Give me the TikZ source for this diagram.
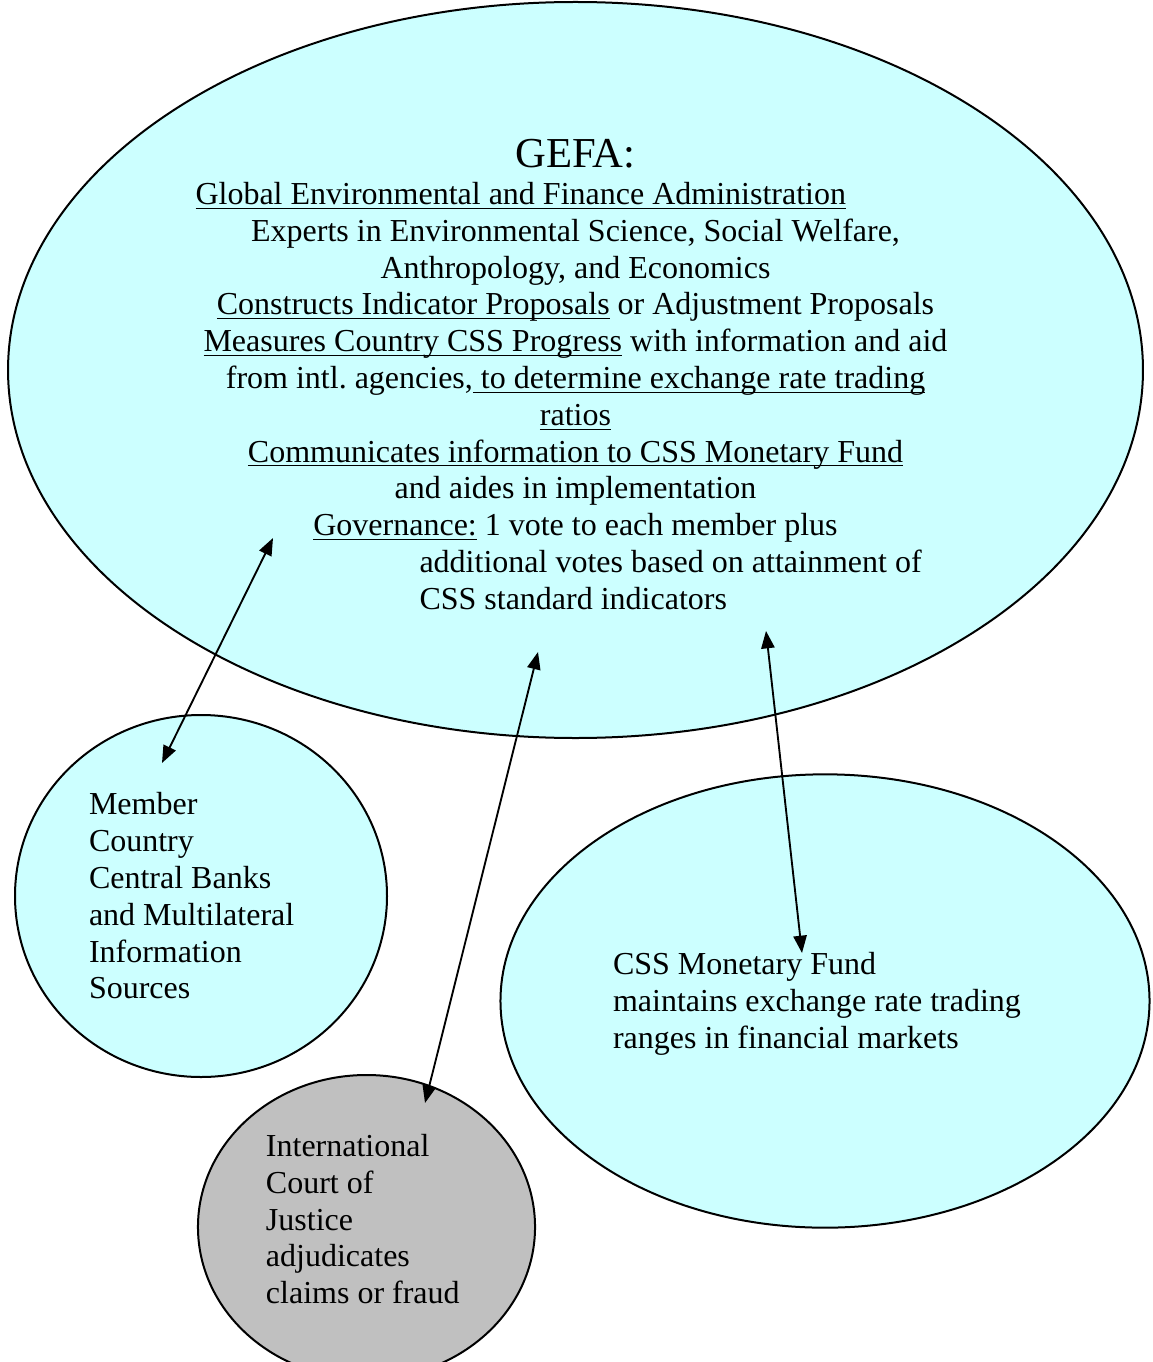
\documentclass[tikz,border=0pt]{standalone}
\usepackage{fontspec}
\setmainfont{Liberation Serif}
\usetikzlibrary{shapes.geometric,arrows.meta}
\definecolor{paleturq}{RGB}{204,255,255}
\definecolor{palegray}{RGB}{192,192,192}
\newcommand{\uln}[1]{\underline{\smash{#1}}}

\tikzset{
  bubble/.style={ellipse, draw, line width=0.75pt, fill=paleturq, inner sep=1pt,
    font=\fontsize{12}{13.8}\selectfont},
  link/.style={{Triangle[length=6.5pt,width=5pt]}-{Triangle[length=6.5pt,width=5pt]}, line width=0.7pt}
}

\begin{document}
\begin{tikzpicture}[x=0.375pt, y=-0.375pt]
  \useasboundingbox (0,0) rectangle (1152,1362);

  % Main administration
  \node[bubble, minimum width=425.6pt, minimum height=276pt, align=center] (gefa) at (575.5,370)
    {\rule{0pt}{14pt}{\fontsize{16}{18}\selectfont GEFA:}\\
     \makebox[285pt][l]{\uln{Global Environmental and Finance Administration}}\\
     Experts in Environmental Science, Social Welfare,\\
     Anthropology, and Economics\\
     \uln{Constructs Indicator Proposals} or Adjustment Proposals\\
     \uln{Measures Country CSS Progress} with information and aid\\
     from intl.\ agencies,\uln{ to determine exchange rate trading}\\
     \uln{ratios}\\
     \uln{Communicates information to CSS Monetary Fund}\\
     and aides in implementation\\
     \uln{Governance:} 1 vote to each member plus\\
     \makebox[117pt][l]{additional votes based on attainment of}\\
     \makebox[117pt][l]{CSS standard indicators}};

  % Surrounding bodies
  \node[bubble, minimum width=139.5pt, minimum height=135.75pt, text width=84pt, align=flush left] (banks) at (201,896)
    {Member\\Country\\Central Banks\\and Multilateral\\Information\\Sources};
  \node[bubble, fill=palegray, minimum width=126.4pt, minimum height=114pt, text width=75.4pt, align=flush left] (court) at (366.5,1227)
    {International\\Court of\\Justice\\adjudicates\\claims or fraud\rule[-6pt]{0pt}{6pt}};
  \node[bubble, minimum width=243.4pt, minimum height=170pt, text width=159pt, align=flush left] (fund) at (825,1001)
    {\rule{0pt}{10.5pt}CSS Monetary Fund\\maintains exchange rate trading\\ranges in financial markets};

  % Arrow ends
  \coordinate (gefa-w) at (273,538);
  \coordinate (gefa-s) at (538,652);
  \coordinate (gefa-e) at (766,631);
  \coordinate (banks-n) at (162,763);
  \coordinate (court-n) at (425,1103);
  \coordinate (fund-n) at (802,953);

  % Links
  \draw[link] (gefa-w) -- (banks-n);
  \draw[link] (gefa-s) -- (court-n);
  \draw[link] (gefa-e) -- (fund-n);
\end{tikzpicture}
\end{document}
